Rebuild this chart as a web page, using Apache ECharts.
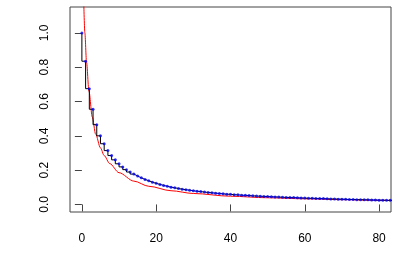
<!DOCTYPE html>
<html><head><meta charset="utf-8">
<script src="https://cdn.jsdelivr.net/npm/echarts@6/dist/echarts.min.js"></script>
<style>html,body{margin:0;padding:0;background:#fff}#c{width:400px;height:280px}</style>
</head><body><div id="c"></div>
<script>
// lag / index values 0..85
var lags = [];
for (var i = 0; i <= 85; i++) lags.push(i);
// observed values (blue points, black step)
var observed = [1.000,0.835,0.675,0.555,0.465,0.400,0.354,0.314,0.285,0.260,
0.237,0.219,0.203,0.189,0.177,0.166,0.155,0.146,0.138,0.130,
0.123,0.117,0.111,0.106,0.101,0.097,0.093,0.089,0.086,0.083,
0.080,0.077,0.075,0.072,0.070,0.068,0.066,0.064,0.062,0.060,
0.059,0.057,0.056,0.054,0.053,0.052,0.050,0.049,0.048,0.047,
0.046,0.045,0.044,0.043,0.042,0.041,0.040,0.040,0.039,0.038,
0.037,0.036,0.036,0.035,0.034,0.034,0.033,0.032,0.032,0.031,
0.031,0.030,0.029,0.029,0.028,0.028,0.027,0.027,0.026,0.026,
0.025,0.025,0.024,0.024,0.023,0.023];
// red reference curve samples
var curveX = [0.5,0.8,1.25,1.9,2.8,3.7,5,6,7.5,10,14,18,24,30,40,50,60,70,80,86];
var curveY = [1.18,1.00,0.83,0.66,0.51,0.41,0.33,0.285,0.238,0.185,0.136,0.106,0.080,0.064,0.048,0.039,0.033,0.028,0.024,0.022];
var xTicks = [0,20,40,60,80];
var yTicks = [0,0.2,0.4,0.6,0.8,1.0];

var pts = lags.map(function(x,i){return [x, observed[i]];});
var red = curveX.map(function(x,i){return [x, curveY[i]];});

var chart = echarts.init(document.getElementById('c'), null, {renderer:'canvas'});
var font = {fontFamily:'Liberation Sans', fontSize:12, color:'#000'};
chart.setOption({
  animation:false,
  grid:{left:70, right:9, top:7, bottom:68, show:true, borderColor:'#444', borderWidth:1, backgroundColor:'transparent'},
  xAxis:{type:'value', min:-3.2, max:83.2, splitLine:{show:false},
    axisLine:{show:false},
    axisTick:{show:true, length:7, lineStyle:{color:'#444'}, customValues:xTicks},
    axisLabel:Object.assign({margin:21, customValues:xTicks, formatter:function(v){return String(v);}}, font)},
  yAxis:{type:'value', min:-0.044, max:1.151, splitLine:{show:false},
    axisLine:{show:false},
    axisTick:{show:true, length:7, lineStyle:{color:'#444'}, customValues:yTicks},
    axisLabel:Object.assign({margin:19, rotate:90, customValues:yTicks, formatter:function(v){return v.toFixed(1);}}, font)},
  series:[
    {type:'line', data:red, smooth:0.3, smoothMonotone:'x', showSymbol:false, clip:true,
      lineStyle:{color:'#ff0000', width:1}, z:2},
    {type:'line', data:pts, step:'start', showSymbol:false, clip:true,
      lineStyle:{color:'#000', width:1}, z:3},
    {type:'scatter', data:pts, symbol:'circle', symbolSize:3, clip:true,
      itemStyle:{color:'#0000ff'}, z:4}
  ]
});
</script></body></html>
